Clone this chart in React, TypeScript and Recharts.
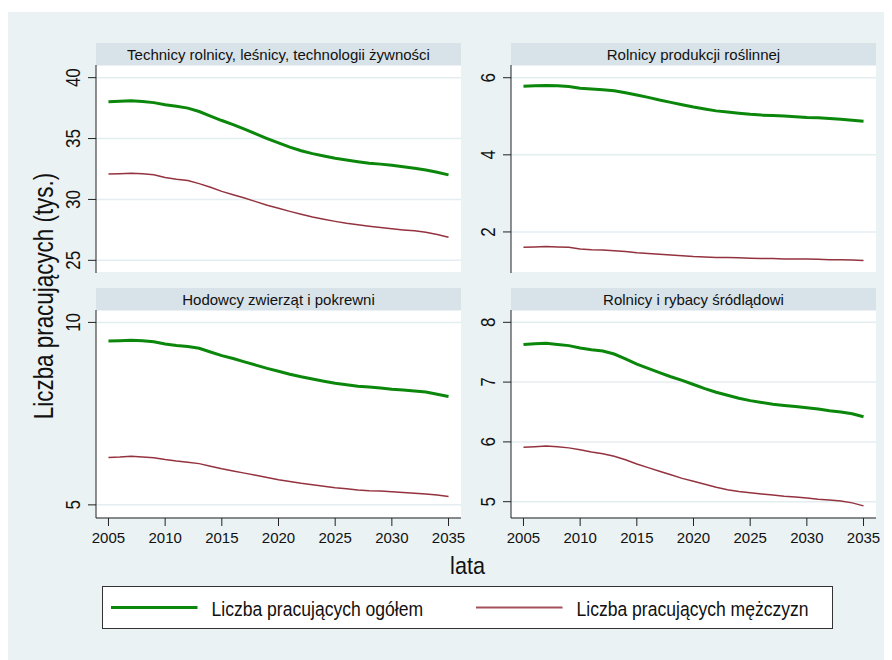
import React from 'react';
import { LineChart, Line, XAxis, YAxis, CartesianGrid } from 'recharts';

const years = [
  2005, 2006, 2007, 2008, 2009, 2010, 2011, 2012, 2013, 2014, 2015, 2016, 2017, 2018, 2019, 2020,
  2021, 2022, 2023, 2024, 2025, 2026, 2027, 2028, 2029, 2030, 2031, 2032, 2033, 2034, 2035,
];
const yearTicks = [2005, 2010, 2015, 2020, 2025, 2030, 2035];

// Technicy rolnicy, leśnicy, technologii żywności
const technicyTotal = [
  38.03, 38.07, 38.11, 38.05, 37.95, 37.78, 37.65, 37.5, 37.22, 36.85, 36.48, 36.14, 35.77, 35.38, 35.0, 34.64,
  34.3, 34.0, 33.76, 33.56, 33.38, 33.24, 33.1, 32.98, 32.9, 32.8, 32.68, 32.56, 32.42, 32.24, 32.02,
];
const technicyMen = [
  32.08, 32.12, 32.16, 32.1, 32.02, 31.8, 31.66, 31.55, 31.3, 31.0, 30.66, 30.38, 30.12, 29.82, 29.52, 29.28,
  29.02, 28.78, 28.56, 28.38, 28.2, 28.04, 27.92, 27.8, 27.7, 27.6, 27.5, 27.42, 27.3, 27.12, 26.9,
];

// Rolnicy produkcji roślinnej
const roslinnejTotal = [
  5.78, 5.79, 5.8, 5.79, 5.77, 5.73, 5.71, 5.69, 5.66, 5.61, 5.55, 5.49, 5.42, 5.36, 5.3, 5.24,
  5.19, 5.14, 5.11, 5.08, 5.05, 5.03, 5.02, 5.01, 4.99, 4.97, 4.96, 4.94, 4.92, 4.9, 4.87,
];
const roslinnejMen = [
  1.6, 1.61, 1.62, 1.61, 1.6, 1.56, 1.54, 1.53, 1.51, 1.49, 1.46, 1.44, 1.42, 1.4, 1.38, 1.36,
  1.35, 1.34, 1.34, 1.33, 1.32, 1.31, 1.31, 1.3, 1.3, 1.3, 1.29, 1.28, 1.28, 1.27, 1.26,
];

// Hodowcy zwierząt i pokrewni
const hodowcyTotal = [
  9.49, 9.5, 9.51, 9.5, 9.47, 9.41, 9.37, 9.34, 9.29, 9.19, 9.09, 9.01, 8.92, 8.83, 8.74, 8.66,
  8.58, 8.51, 8.45, 8.39, 8.33, 8.29, 8.25, 8.23, 8.2, 8.17, 8.15, 8.12, 8.09, 8.03, 7.97,
];
const hodowcyMen = [
  6.3, 6.31, 6.33, 6.31, 6.29, 6.24, 6.2, 6.17, 6.13, 6.06, 5.99, 5.93, 5.87, 5.81, 5.75, 5.69,
  5.64, 5.59, 5.55, 5.51, 5.47, 5.44, 5.41, 5.39, 5.38, 5.36, 5.34, 5.32, 5.3, 5.27, 5.23,
];

// Rolnicy i rybacy śródlądowi
const rybacyTotal = [
  7.63, 7.64, 7.65, 7.63, 7.61, 7.57, 7.54, 7.52, 7.47, 7.39, 7.3, 7.23, 7.16, 7.09, 7.03, 6.96,
  6.89, 6.83, 6.78, 6.73, 6.69, 6.66, 6.63, 6.61, 6.59, 6.57, 6.55, 6.52, 6.5, 6.47, 6.42,
];
const rybacyMen = [
  5.91, 5.92, 5.93, 5.92, 5.9, 5.87, 5.83, 5.8, 5.76, 5.7, 5.63, 5.57, 5.51, 5.45, 5.39, 5.34,
  5.29, 5.24, 5.2, 5.17, 5.15, 5.13, 5.11, 5.09, 5.08, 5.06, 5.04, 5.03, 5.01, 4.98, 4.93,
];

const SANS = "'Liberation Sans', Arial, sans-serif";
const GREEN = '#0b870b';
const RED = '#94333f';
const INK = '#111';

const series = [
  { key: 'total', name: 'Liczba pracujących ogółem', color: GREEN, width: 3 },
  { key: 'men', name: 'Liczba pracujących mężczyzn', color: RED, width: 1.5 },
];

const panels = [
  { title: 'Technicy rolnicy, leśnicy, technologii żywności', total: technicyTotal, men: technicyMen, domain: [23.96, 41.04], ticks: [25, 30, 35, 40], left: 50, top: 65, bottom: false },
  { title: 'Rolnicy produkcji roślinnej', total: roslinnejTotal, men: roslinnejMen, domain: [0.935, 6.33], ticks: [2, 4, 6], left: 465, top: 65, bottom: false },
  { title: 'Hodowcy zwierząt i pokrewni', total: hodowcyTotal, men: hodowcyMen, domain: [4.64, 10.34], ticks: [5, 10], left: 50, top: 310, bottom: true },
  { title: 'Rolnicy i rybacy śródlądowi', total: rybacyTotal, men: rybacyMen, domain: [4.727, 8.206], ticks: [5, 6, 7, 8], left: 465, top: 310, bottom: true },
];

// condensed text, like the narrow Stata export
function Narrow({ x, y, size, sx, rotate, anchor = 'start', children }: any) {
  return (
    <text
      transform={`translate(${x} ${y})${rotate ? ' rotate(-90)' : ''} scale(${sx} 1)`}
      textAnchor={anchor}
      fontSize={size}
      fontFamily={SANS}
      fill={INK}
    >
      {children}
    </text>
  );
}

function RotTick(props: any) {
  const { x, y, payload } = props;
  return (
    <Narrow x={x} y={y} size={20} sx={0.85} rotate anchor="middle">
      {payload.value}
    </Narrow>
  );
}

function Panel({ p }: { p: (typeof panels)[number] }) {
  const data = years.map((yr, i) => ({ year: yr, total: p.total[i], men: p.men[i] }));
  const plotH = 208;
  return (
    <div style={{ position: 'absolute', left: p.left, top: p.top - 22 }}>
      <div
        style={{
          marginLeft: 46,
          width: 365,
          height: 22,
          background: '#d8e3e9',
          fontFamily: SANS,
          fontSize: 15,
          color: INK,
          textAlign: 'center',
          lineHeight: '23px',
          whiteSpace: 'nowrap',
        }}
      >
        {p.title}
      </div>
      <LineChart
        width={431}
        height={p.bottom ? plotH + 35 : plotH}
        data={data}
        margin={{ top: 0, right: 20, bottom: 0, left: 0 }}
      >
        <CartesianGrid vertical={false} stroke="#e4edf0" strokeWidth={1.5} fill="#ffffff" fillOpacity={1} />
        <XAxis
          dataKey="year"
          type="number"
          domain={[2003.9, 2036.1]}
          allowDataOverflow
          ticks={yearTicks}
          hide={!p.bottom}
          height={35}
          tickSize={8}
          tickMargin={6}
          stroke="#222"
          tick={{ fontSize: 15, fontFamily: SANS, fill: INK }}
        />
        <YAxis
          type="number"
          domain={p.domain}
          allowDataOverflow
          ticks={p.ticks}
          width={46}
          tickSize={8}
          tickMargin={8}
          stroke="#222"
          tick={RotTick}
        />
        {series.map((s) => (
          <Line
            key={s.key}
            type="linear"
            dataKey={s.key}
            name={s.name}
            stroke={s.color}
            strokeWidth={s.width}
            dot={false}
            isAnimationActive={false}
          />
        ))}
      </LineChart>
    </div>
  );
}

const legendX = [111, 476];

export default function App() {
  return (
    <div style={{ position: 'relative', width: 892, height: 660, margin: '-8px 0 0 -8px', background: '#fff', overflow: 'hidden' }}>
      <div style={{ position: 'absolute', left: 8, top: 12, width: 884, height: 648, background: '#eaf2f3' }} />
      {panels.map((p) => (
        <Panel key={p.title} p={p} />
      ))}
      <svg width={892} height={660} style={{ position: 'absolute', left: 0, top: 0, pointerEvents: 'none' }}>
        <Narrow x={53} y={296} size={28} sx={0.8} rotate anchor="middle">
          Liczba pracujących (tys.)
        </Narrow>
        <Narrow x={467.5} y={574} size={24} sx={0.9} anchor="middle">
          lata
        </Narrow>
        <rect x={102.5} y={586.5} width={730} height={42} fill="#fff" stroke="#333" strokeWidth={1} />
        {series.map((s, i) => {
          const x0 = legendX[i];
          return (
            <g key={s.key}>
              <line
                x1={x0}
                x2={x0 + 86.5}
                y1={607.5}
                y2={607.5}
                stroke={s.color}
                strokeWidth={i === 0 ? 3 : 2.2}
                strokeOpacity={i === 0 ? 1 : 0.85}
              />
              <Narrow x={x0 + 100.5} y={616} size={19.5} sx={0.9}>
                {s.name}
              </Narrow>
            </g>
          );
        })}
      </svg>
    </div>
  );
}
